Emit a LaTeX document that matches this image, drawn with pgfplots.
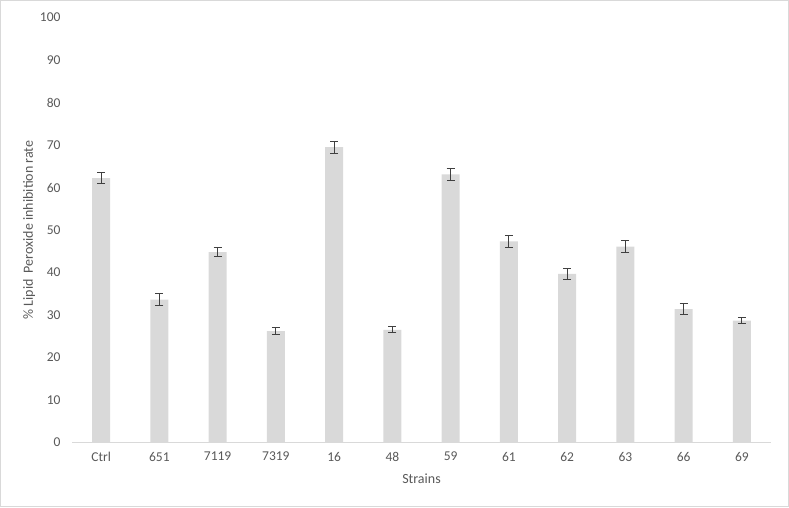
\documentclass[border=0pt]{standalone}
\usepackage{pgfplots}
\pgfplotsset{compat=1.18}
\usepackage{fontspec}
\setmainfont{Carlito}
\definecolor{barfill}{HTML}{D9D9D9}
\definecolor{txt}{HTML}{595959}
\definecolor{errc}{HTML}{404040}
\begin{document}
\begin{tikzpicture}[x=1pt,y=1pt]
% chart area frame
\draw[barfill, line width=1pt] (0.5,0.5) rectangle (788.5,506.5);
\begin{axis}[
  at={(72pt,64.5pt)}, anchor=south west,
  scale only axis, width=699pt, height=425pt,
  ybar, bar width=18pt,
  xmin=-0.5, xmax=11.5, ymin=0, ymax=100,
  ytick={0,10,...,100},
  xtick={0,...,11},
  xticklabels={Ctrl,651,7119,7319,16,48,59,61,62,63,66,69},
  major tick length=0pt,
  axis x line*=bottom, axis y line*=left,
  x axis line style={draw=barfill, line width=1pt, -},
  y axis line style={draw=none},
  /pgf/number format/assume math mode=true,
  tick label style={font=\fontsize{13.5}{16}\selectfont, text=txt},
  yticklabel style={xshift=-8pt},
  xticklabel style={yshift=-6pt},
  xlabel={Strains},
  ylabel={\%\ Lipid\ \ Peroxide inhibition rate},
  label style={font=\fontsize{14}{16}\selectfont, text=txt},
  xlabel style={yshift=-5pt},
  ylabel style={yshift=-2pt},
  clip=false,
]
\addplot[fill=barfill, draw=none,
  error bars/.cd, y dir=both, y explicit,
  error bar style={errc, line width=1pt},
  error mark options={rotate=90, mark size=4pt, errc, line width=1pt}]
coordinates {
(0, 62.2) +- (0, 1.35)
(1, 33.6) +- (0, 1.45)
(2, 44.8) +- (0, 1.15)
(3, 26.2) +- (0, 0.9)
(4, 69.5) +- (0, 1.4)
(5, 26.5) +- (0, 0.7)
(6, 63.1) +- (0, 1.35)
(7, 47.3) +- (0, 1.4)
(8, 39.7) +- (0, 1.3)
(9, 46.1) +- (0, 1.4)
(10, 31.4) +- (0, 1.35)
(11, 28.7) +- (0, 0.65)
};
\end{axis}
\end{tikzpicture}
\end{document}
